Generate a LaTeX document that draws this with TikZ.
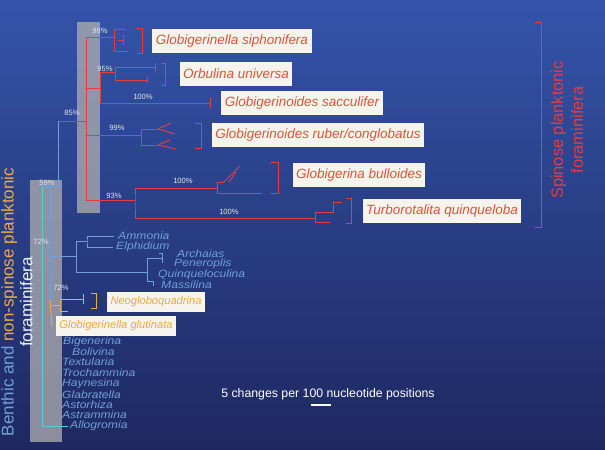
\documentclass[tikz,border=0pt]{standalone}
\usepackage{fontspec}
\setmainfont{Liberation Sans}
\newfontfamily\taxafont[FakeStretch=1.15]{Liberation Sans}
\usetikzlibrary{positioning}

\definecolor{bgtop}{RGB}{52,84,170}
\definecolor{bgbot}{RGB}{30,40,96}
\definecolor{spinred}{RGB}{226,62,66}
\definecolor{labred}{RGB}{222,82,58}
\definecolor{labbox}{RGB}{247,243,237}
\definecolor{nsorange}{RGB}{236,170,72}
\definecolor{benthblue}{RGB}{112,160,214}
\definecolor{benthcyan}{RGB}{96,200,212}
\definecolor{bargray}{RGB}{168,168,174}
\definecolor{pcttext}{RGB}{228,228,236}

\begin{document}
\begin{tikzpicture}[x=0.03cm,y=-0.03cm,
    redline/.style={draw=spinred, line width=0.8pt},
    blueline/.style={draw=benthblue, line width=0.7pt},
    cyanline/.style={draw=benthcyan, line width=0.7pt},
    orline/.style={draw=nsorange, line width=0.8pt},
    redbox/.style={fill=labbox, text=labred, inner xsep=3pt, minimum height=0.72cm,
      font=\fontsize{11.5}{13}\selectfont\itshape},
    orbox/.style={fill=labbox, text=nsorange, inner xsep=3pt, minimum height=0.62cm,
      font=\fontsize{9.5}{11}\selectfont\itshape},
    taxon/.style={anchor=west, inner sep=0pt, text=benthblue,
      font=\taxafont\fontsize{9}{10}\selectfont\itshape},
    pct/.style={inner sep=0pt, text=pcttext, font=\fontsize{6.5}{7}\selectfont}]
  % background and support bars
  \useasboundingbox (0,0) rectangle (605,450);
  \fill[top color=bgtop, bottom color=bgbot] (0,0) rectangle (605,450);
  \fill[bargray, opacity=0.8] (77,22) rectangle (100,213);
  \fill[bargray, opacity=0.8] (30,180) rectangle (62,442);

  % spinose clade
  \coordinate (n85) at (58,121);
  \coordinate (nSp) at (86,121);
  \coordinate (n98) at (86,37);
  \coordinate (nB) at (86,88);
  \coordinate (n99) at (86,135);
  \coordinate (n93) at (86,200);
  \coordinate (tSiph) at (114,37);
  \coordinate (tB) at (100,88);
  \coordinate (n95) at (100,72);
  \coordinate (tOrb) at (115,72);
  \coordinate (tSacc) at (210,103);
  \coordinate (tRub) at (141,135);
  \coordinate (nC) at (135,200);
  \coordinate (tBull) at (217,188);
  \coordinate (tQuin) at (315,218);

  \draw[redline] (n85) -- (nSp);
  \draw[redline] (n98) -- (n93);
  \draw[redline] (n98) -- (tSiph);
  \draw[redline] (nB) -- (tB);
  \draw[redline] (tOrb) -- (n95) |- (tSacc);
  \draw[redline] (n99) -- (tRub);
  \draw[redline] (n93) -- (nC);
  \draw[redline] (tBull) -| (nC) |- (tQuin);

  % small subtrees and brackets
  \draw[redline] (126,29) -| (114,51) -- (128,51);
  \draw[redline] (118,40) -- (123,40) (123,35) -- (123,45);
  \draw[redline] (136,28) -| (142,53) -- (137,53);
  \draw[redline] (155,67) -| (115,80) -- (147,80);
  \draw[redline] (155,63) -- (155,71) (147,77) -- (147,83);
  \draw[redline] (161,63) -| (165,85) -- (161,85);
  \draw[redline] (210,98) -- (210,108);
  \draw[redline] (158,129) -| (141,145) -- (158,145);
  \draw[redline] (158,129) -- (171,123) (158,129) -- (175,134);
  \draw[redline] (158,145) -- (170,140) (158,145) -- (176,149);
  \draw[redline] (195,123) -| (201,148) -- (195,148);
  \draw[redline] (224,182) -| (217,193) -- (262,193);
  \draw[redline] (224,182) -- (240,166) (229,182) -- (236,172);
  \draw[redline] (271,162) -| (278,193) -- (271,193);
  \draw[redline] (330,222) -| (315,212) -- (333,212) |- (342,202);
  \draw[redline] (346,198) -| (351,223) -- (346,223);
  \draw[redline] (535,22) -| (541,227) -- (535,227);

  % benthic and non-spinose part
  \coordinate (n59) at (58,186);
  \coordinate (nBen) at (50,186);
  \coordinate (nCy) at (42,186);
  \coordinate (n72a) at (50,256);
  \coordinate (nRot) at (76,256);
  \coordinate (nAm) at (87,241);
  \coordinate (nMil) at (147,272);
  \coordinate (nNs) at (50,300);
  \coordinate (n72b) at (60,305);
  \coordinate (tAllo) at (68,426);

  \draw[blueline] (n85) -- (n59) -- (nCy);
  \draw[blueline] (nBen) -- (nNs);
  \draw[blueline] (n72a) -- (nRot);
  \draw[blueline] (nAm) -| (76,272) -- (nMil);
  \draw[blueline] (114,236) -| (nAm) |- (113,247);
  \draw[blueline] (162,258) -| (147,281) -- (153,281) -- (153,286);
  \draw[blueline] (159,253) -| (162,263);
  \draw[orline] (nNs) -- (52,326);
  \draw[orline] (52,305) -- (n72b);
  \draw[orline] (83,299) -| (n72b) |- (68,311);
  \draw[orline] (83,294) -- (83,304);
  \draw[orline] (91,293) -| (96,308) -- (91,308);
  \draw[cyanline] (nCy) |- (tAllo);

  % labels
  \node[redbox] (lSiph) at (232,41) {Globigerinella siphonifera};
  \node[redbox] (lOrb) at (236,74) {Orbulina universa};
  \node[redbox] (lSacc) at (302,103) {Globigerinoides sacculifer};
  \node[redbox] (lRub) at (318,135) {Globigerinoides ruber/conglobatus};
  \node[redbox] (lBull) at (359,175) {Globigerina bulloides};
  \node[redbox] (lQuin) at (442,211) {Turborotalita quinqueloba};

  \node[taxon] (tAm) at (118,236) {Ammonia};
  \node[taxon] (tEl) at (116,247) {Elphidium};
  \node[taxon] (tAr) at (177,254) {Archaias};
  \node[taxon] (tPe) at (174,264) {Peneroplis};
  \node[taxon] (tQu) at (158,275) {Quinqueloculina};
  \node[taxon] (tMa) at (161,285) {Massilina};
  \node[taxon] (tBi) at (63,342) {Bigenerina};
  \node[taxon] (tBo) at (72,352) {Bolivina};
  \node[taxon] (tTe) at (62,362) {Textularia};
  \node[taxon] (tTr) at (62,373) {Trochammina};
  \node[taxon] (tHa) at (62,384) {Haynesina};
  \node[taxon] (tGl) at (62,395) {Glabratella};
  \node[taxon] (tAs) at (62,405) {Astorhiza};
  \node[taxon] (tAt) at (62,415) {Astrammina};
  \node[taxon] (tAl) at (70,426) {Allogromia};

  \node[orbox] (lNeo) at (156,302) {Neogloboquadrina};
  \node[orbox] (lGlu) at (116,326) {Globigerinella glutinata};

  \node[pct] (p98) at (100,31) {98\%};
  \node[pct] (p95) at (105,69) {95\%};
  \node[pct] (p100a) at (143,97) {100\%};
  \node[pct] (p85) at (72,113) {85\%};
  \node[pct] (p99) at (117,128) {99\%};
  \node[pct] (p100b) at (183,181) {100\%};
  \node[pct] (p93) at (114,196) {93\%};
  \node[pct] (p100c) at (229,212) {100\%};
  \node[pct] (p59) at (47,183) {59\%};
  \node[pct] (p72a) at (41,242) {72\%};
  \node[pct] (p72b) at (61,288) {72\%};

  \node[rotate=90, align=center, text=benthblue, font=\fontsize{14.5}{16}\selectfont]
    (gBenthic) at (17,302) {Benthic and \textcolor{nsorange}{non-spinose planktonic}\\
    \textcolor{white!85!benthblue}{foraminifera}};
  \node[rotate=90, align=center, text=spinred, font=\fontsize{14}{17}\selectfont]
    (gSpinose) at (567,130) {Spinose planktonic\\foraminifera};

  % scale
  \node[text=white, font=\fontsize{10.5}{11}\selectfont] (nScale) at (328,394)
    {5 changes per 100 nucleotide positions};
  \coordinate (sb1) at (311,405);
  \coordinate (sb2) at (331,405);
  \draw[white, line width=1.2pt] (sb1) -- (sb2);
\end{tikzpicture}
\end{document}
